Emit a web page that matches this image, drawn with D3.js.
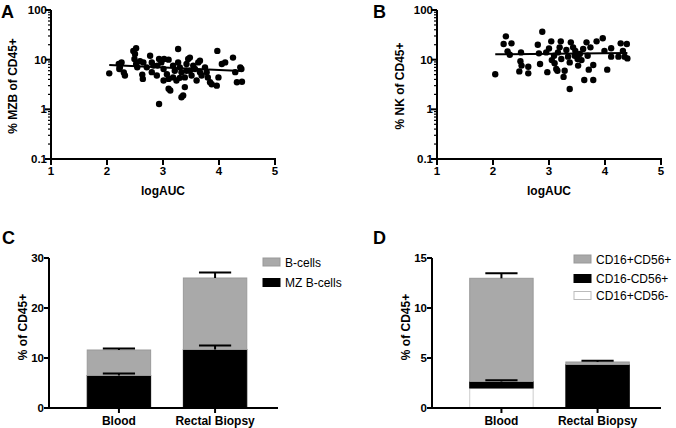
<!DOCTYPE html>
<html><head><meta charset="utf-8">
<script src="https://cdn.jsdelivr.net/npm/d3@7"></script>
<style>
html,body{margin:0;padding:0;background:#fff;}
text{font-family:"Liberation Sans",Arial,sans-serif;}
</style></head>
<body><svg id="c" width="676" height="428"></svg>
<script>
// ---- Panel A data (logAUC vs % MZB of CD45+) ----
const aX = [2.04,2.21,2.23,2.26,2.3,2.32,2.22,2.47,2.52,2.5,2.49,2.52,2.54,2.59,2.65,2.64,2.77,2.8,2.83,2.8,2.89,2.93,2.97,3.02,2.93,3.1,3.01,3.07,3.1,3.1,3.13,3.18,3.21,3.24,3.27,3.27,3.3,3.33,3.33,3.36,3.39,3.39,3.42,3.45,3.48,3.48,3.51,3.54,3.57,3.6,3.63,3.66,3.66,3.69,3.75,3.78,3.8,3.84,3.87,3.96,3.97,3.99,4.05,4.11,4.25,4.29,4.32,4.38,4.41,4.4,2.63,2.71,3.18,3.3,3.42,2.9,3.01];
const aY = [5.3,8.2,7.0,8.8,5.5,4.8,6.5,15,17,13,10.3,8.2,7.0,9.3,8.8,4.1,12,8.8,7.6,5.6,4.8,10.3,8.8,10.3,1.28,10,6.5,5.1,4.1,2.6,2.4,7.6,6.0,3.8,16.4,8.8,7.0,5.6,1.75,1.9,2.8,4.4,8.2,10.3,11,6.0,4.8,7.6,6.5,3.8,8.8,9.5,5.6,4.8,7.0,5.6,4.4,3.5,3.2,3.0,15,4.4,8.2,8.8,11,5.6,3.5,7.0,3.6,6.5,5.0,7.0,4.4,4.3,6.0,7.6,3.8];
const fitAx = [2.04,4.4];
const fitAy = [7.8,5.9];
// ---- Panel B data (logAUC vs % NK of CD45+) ----
const bX = [2.04,2.19,2.23,2.33,2.26,2.3,2.5,2.49,2.47,2.51,2.63,2.63,2.8,2.82,2.84,2.88,2.95,2.97,3.04,3.05,3.09,3.1,3.13,3.15,3.16,3.21,3.19,3.22,3.26,3.28,3.31,3.34,3.37,3.39,3.37,3.43,3.46,3.47,3.51,3.52,3.55,3.58,3.61,3.63,3.67,3.69,3.71,3.74,3.79,3.79,3.85,3.96,3.99,4.04,4.11,4.11,4.24,4.28,4.32,4.35,4.39,4.4,3.0];
const bY = [5.1,20.7,29.5,21.3,14.7,12.6,14,9.3,5.8,7.6,7.2,5.3,20,13.4,8.2,36.6,14,5.6,23.4,9.8,12,8.5,6.5,6.0,14,23.4,17.7,10.3,4.5,6.0,15.6,11.5,8.8,22.3,2.56,17.7,12,15,10.3,7.6,13,9.8,16.4,3.9,22.3,12,6.3,17.7,7.8,3.9,23.4,26.9,15,6.3,17,11.5,11.5,21.3,15,11.5,20.7,10.6,16.8];
const fitBx = [2.04,4.4];
const fitBy = [12.8,13.6];
const scatterXTicks = [1,2,3,4,5];
const scatterYTicks = [0.1,1,10,100];
// ---- Panel C data (stacked, % of CD45+) ----
const cCats = ["Blood","Rectal Biopsy"];
const cSeries = ["MZ B-cells","B-cells"];           // bottom -> top
const cMZ = [6.5,11.7];
const cB = [5.1,14.3];
const cMZErr = [0.4,0.8];
const cBErr = [0.3,1.1];
const cTicks = [0,10,20,30];
// ---- Panel D data (stacked, % of CD45+) ----
const dCats = ["Blood","Rectal Biopsy"];
const dSeries = ["CD16+CD56-","CD16-CD56+","CD16+CD56+"]; // bottom -> top
const dWhite = [2.0,0.0];
const dBlack = [0.65,4.35];
const dGrey = [10.32,0.25];
const dBlackErr = [0.12,0.0];
const dGreyErr = [0.5,0.12];
const dTicks = [0,5,10,15];

const svg = d3.select("#c");

function panelLetter(x,y,t){
  svg.append("text").attr("x",x).attr("y",y).text(t)
    .attr("font-size",18).attr("font-weight","bold").attr("fill","#000");
}

function scatter(opts){
  const {xs, ys, fx, fy, x0, x1, ylabel, labX} = opts;
  const x = d3.scaleLinear().domain([1,5]).range([x0,x1]);
  const y = d3.scaleLog().domain([0.1,100]).range([159,10]);
  const g = svg.append("g");
  const ya = g.append("g").attr("transform",`translate(${x0},0)`);
  ya.append("line").attr("x1",0).attr("x2",0).attr("y1",y(100)).attr("y2",y(0.1)+1)
    .attr("stroke","#000").attr("stroke-width",2);
  const minor = [];
  for (let e=-1;e<2;e++) for (let m=2;m<10;m++) minor.push(m*Math.pow(10,e));
  ya.selectAll(".mn").data(minor).join("line")
    .attr("x1",-3).attr("x2",0).attr("y1",d=>y(d)).attr("y2",d=>y(d))
    .attr("stroke","#000").attr("stroke-width",1.2);
  ya.selectAll(".mj").data(scatterYTicks).join("line")
    .attr("x1",-6).attr("x2",0).attr("y1",d=>y(d)).attr("y2",d=>y(d))
    .attr("stroke","#000").attr("stroke-width",2);
  ya.selectAll(".tl").data(scatterYTicks).join("text")
    .attr("x",-4).attr("y",d=>y(d)+4).attr("text-anchor","end")
    .attr("font-size",11.5).attr("font-weight","bold").text(d=>d3.format("")(d));
  const xa = g.append("g").attr("transform",`translate(0,${y(0.1)})`);
  xa.append("line").attr("x1",x0-1).attr("x2",x(5)+1).attr("y1",0).attr("y2",0)
    .attr("stroke","#000").attr("stroke-width",2);
  xa.selectAll(".xt").data(scatterXTicks).join("line")
    .attr("x1",d=>x(d)).attr("x2",d=>x(d)).attr("y1",0).attr("y2",6)
    .attr("stroke","#000").attr("stroke-width",2);
  xa.selectAll(".xl").data(scatterXTicks).join("text")
    .attr("x",d=>x(d)).attr("y",16).attr("text-anchor","middle")
    .attr("font-size",11.5).attr("font-weight","bold").text(d=>d);
  g.append("text").attr("x",x(3)).attr("y",195).attr("text-anchor","middle")
    .attr("font-size",12).attr("font-weight","bold").text("logAUC");
  g.append("text").attr("transform",`translate(${labX},86) rotate(-90)`)
    .attr("text-anchor","middle").attr("font-size",12).attr("font-weight","bold").text(ylabel);
  g.selectAll("circle").data(xs.map((v,i)=>[v,ys[i]])).join("circle")
    .attr("cx",d=>x(d[0])).attr("cy",d=>y(d[1])).attr("r",3.2).attr("fill","#000");
  g.append("line").attr("x1",x(fx[0])).attr("x2",x(fx[1]))
    .attr("y1",y(fy[0])).attr("y2",y(fy[1])).attr("stroke","#000").attr("stroke-width",2);
}

scatter({xs:aX, ys:aY, fx:fitAx, fy:fitAy, x0:51, x1:275, ylabel:"% MZB of CD45+", labX:17});
scatter({xs:bX, ys:bY, fx:fitBx, fy:fitBy, x0:437, x1:661, ylabel:"% NK of CD45+", labX:404});
panelLetter(1,18,"A");
panelLetter(373,18,"B");

function barPanel(opts){
  const {cats, layers, errs, colors, strokes, ticks, ymax, ax0, ax1, rng, labX, legend, legX, legY, legDy} = opts;
  const x = d3.scaleBand().domain(cats).range(rng).paddingInner(0.33).paddingOuter(0.33);
  const y = d3.scaleLinear().domain([0,ymax]).range([408,258]);
  const g = svg.append("g");
  const stackData = cats.map((c,i)=>{ const o={cat:c}; layers.forEach((l,j)=>o["s"+j]=l[i]); return o; });
  const keys = layers.map((l,j)=>"s"+j);
  const st = d3.stack().keys(keys)(stackData);
  st.forEach((s,j)=>{
    g.selectAll(".b"+j).data(s).join("rect")
      .attr("x",d=>x(d.data.cat)+0.5).attr("width",x.bandwidth()-1)
      .attr("y",d=>y(d[1])).attr("height",d=>Math.max(0,y(d[0])-y(d[1])))
      .attr("fill",colors[j]).attr("stroke",strokes[j]).attr("stroke-width",1);
  });
  st.forEach((s,j)=>{
    if(!errs[j]) return;
    s.forEach((d,i)=>{
      const e = errs[j][i]; if(!e) return;
      const cx = x(d.data.cat)+x.bandwidth()/2, hw = x.bandwidth()/4;
      g.append("line").attr("x1",cx).attr("x2",cx).attr("y1",y(d[1])).attr("y2",y(d[1]+e))
        .attr("stroke","#000").attr("stroke-width",2);
      g.append("line").attr("x1",cx-hw).attr("x2",cx+hw).attr("y1",y(d[1]+e)).attr("y2",y(d[1]+e))
        .attr("stroke","#000").attr("stroke-width",2);
    });
  });
  g.append("line").attr("x1",ax0).attr("x2",ax0).attr("y1",y(ymax)).attr("y2",409)
    .attr("stroke","#000").attr("stroke-width",2);
  g.selectAll(".yt").data(ticks).join("line")
    .attr("x1",ax0-5).attr("x2",ax0).attr("y1",d=>y(d)).attr("y2",d=>y(d))
    .attr("stroke","#000").attr("stroke-width",2);
  g.selectAll(".yl").data(ticks).join("text")
    .attr("x",ax0-5).attr("y",d=>y(d)+4).attr("text-anchor","end")
    .attr("font-size",11.5).attr("font-weight","bold").text(d=>d);
  g.append("line").attr("x1",ax0-1).attr("x2",ax1).attr("y1",408).attr("y2",408)
    .attr("stroke","#000").attr("stroke-width",2);
  g.selectAll(".xt").data(cats).join("line")
    .attr("x1",d=>x(d)+x.bandwidth()/2).attr("x2",d=>x(d)+x.bandwidth()/2)
    .attr("y1",408).attr("y2",413).attr("stroke","#000").attr("stroke-width",2);
  g.selectAll(".xl").data(cats).join("text")
    .attr("x",d=>x(d)+x.bandwidth()/2).attr("y",425).attr("text-anchor","middle")
    .attr("font-size",12).attr("font-weight","bold").text(d=>d);
  g.append("text").attr("transform",`translate(${labX},327) rotate(-90)`)
    .attr("text-anchor","middle").attr("font-size",12).attr("font-weight","bold").text("% of CD45+");
  legend.forEach((L,i)=>{
    const yy = legY + legDy[i];
    g.append("rect").attr("x",legX).attr("y",yy-4).attr("width",17).attr("height",8)
      .attr("fill",L.color).attr("stroke",L.stroke).attr("stroke-width",1);
    g.append("text").attr("x",legX+22).attr("y",yy+4.5).attr("font-size",12).text(L.name);
  });
}

barPanel({cats:cCats, layers:[cMZ,cB], errs:[cMZErr,cBErr],
  colors:["#000","#a9a9a9"], strokes:["#000","#999"], ticks:cTicks, ymax:30,
  ax0:49, ax1:278, rng:[55,279], labX:27,
  legend:[{name:cSeries[1],color:"#a9a9a9",stroke:"#999"},{name:cSeries[0],color:"#000",stroke:"#000"}],
  legX:263, legY:262, legDy:[0,20.5]});
barPanel({cats:dCats, layers:[dWhite,dBlack,dGrey], errs:[null,dBlackErr,dGreyErr],
  colors:["#fff","#000","#a9a9a9"], strokes:["#ccc","#000","#999"], ticks:dTicks, ymax:15,
  ax0:432, ax1:661, rng:[437.5,661.5], labX:410,
  legend:[{name:dSeries[2],color:"#a9a9a9",stroke:"#999"},{name:dSeries[1],color:"#000",stroke:"#000"},{name:dSeries[0],color:"#fff",stroke:"#bbb"}],
  legX:574, legY:259, legDy:[0,19.5,36.5]});
panelLetter(2,244,"C");
panelLetter(373,244,"D");
</script></body></html>
